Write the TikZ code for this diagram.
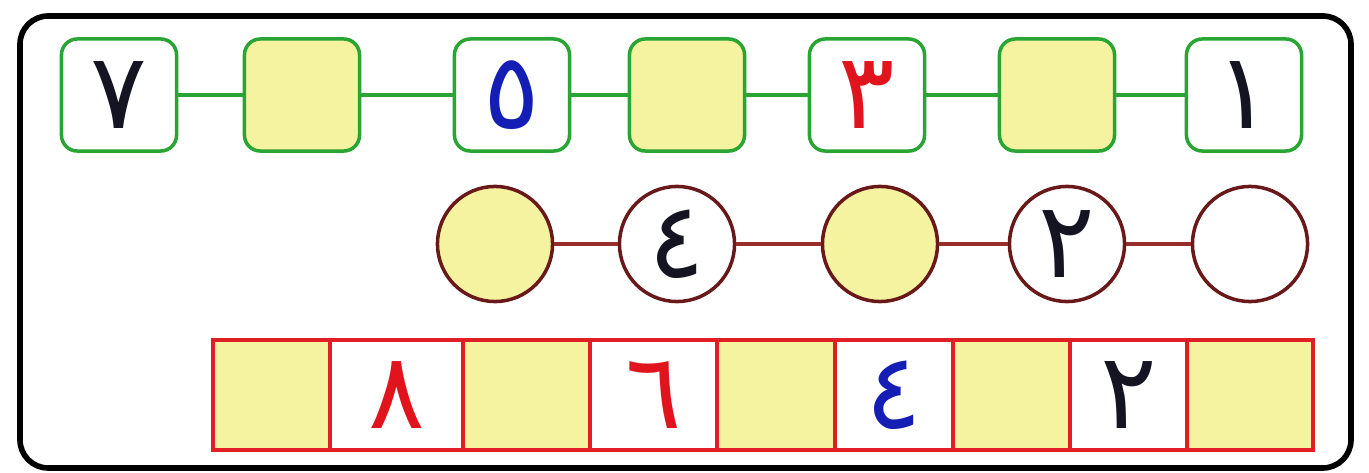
\documentclass[tikz,border=0pt]{standalone}
\usepackage{fontspec}
\newfontfamily\arabicfont[Script=Arabic]{DejaVu Sans}
\definecolor{boxgreen}{RGB}{40,165,50}
\definecolor{padyellow}{RGB}{245,242,160}
\definecolor{ringbrown}{RGB}{105,25,25}
\definecolor{linkbrown}{RGB}{150,45,40}
\definecolor{cellred}{RGB}{225,30,35}
\definecolor{inkblue}{RGB}{20,30,180}
\definecolor{inkred}{RGB}{225,20,30}
\definecolor{inkblack}{RGB}{20,20,35}
\tikzset{
	digit/.style={font=\arabicfont\fontsize{30}{30}\selectfont},
	sqbox/.style={digit,draw=boxgreen,line width=1pt,rounded corners=4.5pt,minimum width=1.15cm,minimum height=1.12cm,inner sep=0pt},
	ring/.style={digit,circle,draw=ringbrown,line width=1pt,minimum size=1.15cm,inner sep=0pt},
	cell/.style={digit,draw=cellred,line width=1pt,minimum height=1.1cm,inner sep=0pt},
}
\begin{document}
\begin{tikzpicture}[x=0.01cm,y=-0.01cm]
			\useasboundingbox (0,0) rectangle (1369,473);
			\fill[white] (0,0) rectangle (1369,473);
			\draw[line width=1.6pt,rounded corners=8pt] (20,16) rectangle (1351,468);
			% top row
			\foreach \n/\x/\t/\c/\f in {1/119/٧/inkblack/white, 2/302//inkblack/padyellow, 3/512/٥/inkblue/white, 4/687//inkblack/padyellow, 5/867/٣/inkred/white, 6/1057//inkblack/padyellow, 7/1244/١/inkblack/white}
				\node[sqbox,fill=\f,text=\c] (sq\n) at (\x,95) {\t};
			\foreach \a/\b in {1/2,2/3,3/4,4/5,5/6,6/7}
				\draw[boxgreen,line width=1pt] (sq\a.east) -- (sq\b.west);
			% circles
			\foreach \n/\x/\t/\f in {1/495//padyellow, 2/677/٤/white, 3/880//padyellow, 4/1067/٢/white, 5/1250//white}
				\node[ring,fill=\f,text=inkblack] (rg\n) at (\x,244) {\t};
			\foreach \a/\b in {1/2,2/3,3/4,4/5}
				\draw[linkbrown,line width=1pt] (rg\a.east) -- (rg\b.west);
			% strip of cells
			\foreach \n/\l/\r/\t/\c/\f in {1/213/330//inkblack/padyellow, 2/330/463/٨/inkred/white, 3/463/590//inkblack/padyellow, 4/590/717/٦/inkred/white, 5/717/835//inkblack/padyellow, 6/835/953/٤/inkblue/white, 7/953/1070//inkblack/padyellow, 8/1070/1187/٢/inkblack/white, 9/1187/1313//inkblack/padyellow}
				\node[cell,fill=\f,text=\c,minimum width={(\r-\l)*0.01cm}] (cl\n) at ({(\l+\r)/2},395) {\t};
\end{tikzpicture}
\end{document}
